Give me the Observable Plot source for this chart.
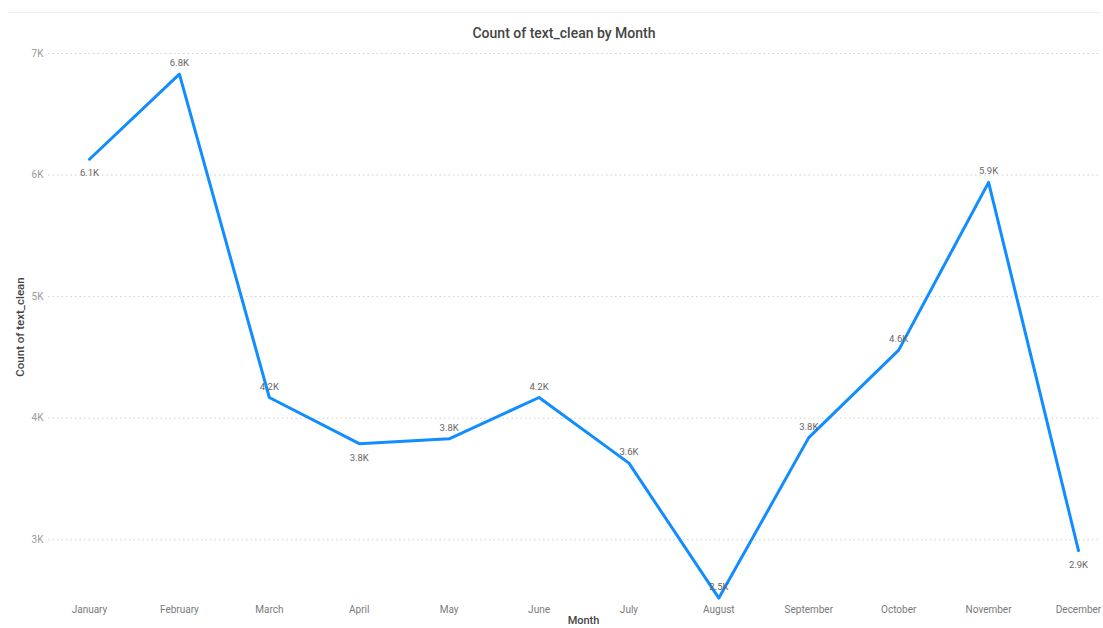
<!DOCTYPE html>
<html>
<head>
<meta charset="utf-8">
<script src="https://cdn.jsdelivr.net/npm/d3@7"></script>
<script src="https://cdn.jsdelivr.net/npm/@observablehq/plot@0.6"></script>
<style>
  html, body { margin: 0; padding: 0; background: #fff; width: 1103px; height: 628px; overflow: hidden; }
  #wrap { position: relative; width: 1103px; height: 628px; }
  #topline { position: absolute; left: 8px; top: 12px; width: 1092px; height: 0; border-top: 1px solid #ececec; }
  #title { position: absolute; left: 0; top: 25px; width: 1103px; padding-left: 25px; box-sizing: border-box;
           text-align: center; font-family: Roboto, "Noto Sans", sans-serif; font-size: 14px; font-weight: 500; color: #444; }
  #chart { position: absolute; left: 0; top: 43px; }
</style>
</head>
<body>
<div id="wrap">
  <div id="topline"></div>
  <div id="title">Count of text_clean by Month</div>
  <div id="chart"></div>
</div>
<script>
const months = ["January","February","March","April","May","June","July","August","September","October","November","December"];
const counts = [6130, 6830, 4170, 3790, 3830, 4170, 3630, 2520, 3840, 4560, 5940, 2910];
const yTicks = [3000, 4000, 5000, 6000, 7000];
const yDomain = [2500, 7000];

const data = months.map((m, i) => {
  const v = counts[i];
  const prev = i > 0 ? counts[i - 1] : Infinity;
  const next = i < counts.length - 1 ? counts[i + 1] : Infinity;
  const localMin = v < prev && v < next;
  const room = v - yDomain[0] > 300;
  return {month: m, count: v, label: (v / 1000).toFixed(1) + "K", below: localMin && room};
});

const font = "Roboto, 'Noto Sans', sans-serif";

const chart = Plot.plot({
  width: 1103,
  height: 585,
  marginTop: 10,
  marginBottom: 28,
  marginLeft: 48,
  marginRight: 3,
  style: {fontFamily: font, background: "transparent", overflow: "visible"},
  x: {type: "point", domain: months, padding: 0, round: false, insetLeft: 41, insetRight: 22},
  y: {domain: yDomain},
  marks: [
    Plot.gridY(yTicks, {stroke: "#cfcfcf", strokeOpacity: 1, strokeDasharray: "1.5,3"}),
    Plot.axisY(yTicks, {tickSize: 0, tickPadding: 5, tickFormat: d => d / 1000 + "K", fill: "#9a9a9a", fontSize: 10, label: null}),
    Plot.axisX({tickSize: 0, tickPadding: 5, fill: "#7a7a7a", fontSize: 10, label: null}),
    Plot.line(data, {x: "month", y: "count", stroke: "#118DFF", strokeWidth: 3}),
    Plot.text(data.filter(d => !d.below), {x: "month", y: "count", text: "label", dy: -11, fill: "#666", fontSize: 9.5}),
    Plot.text(data.filter(d => d.below), {x: "month", y: "count", text: "label", dy: 14, fill: "#666", fontSize: 9.5}),
    Plot.text(["Count of text_clean"], {frameAnchor: "left", textAnchor: "middle", rotate: -90, dx: -28, fill: "#444", fontSize: 11.5, fontWeight: 500}),
    Plot.text(["Month"], {frameAnchor: "bottom", textAnchor: "middle", dx: 9, dy: 16, lineAnchor: "top", fill: "#444", fontSize: 11, fontWeight: 500})
  ]
});
document.getElementById("chart").appendChild(chart);
</script>
</body>
</html>
